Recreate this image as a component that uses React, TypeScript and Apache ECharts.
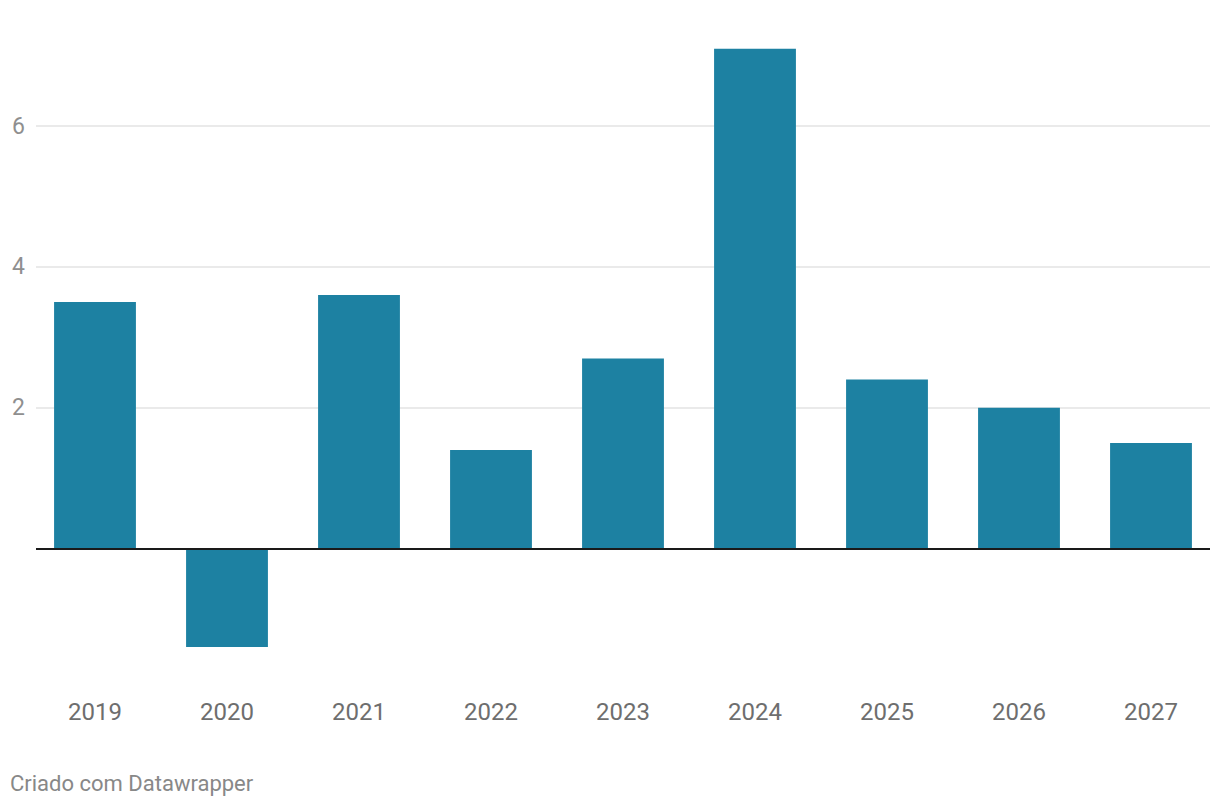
import React, { useEffect, useRef } from "react";
import * as echarts from "echarts";

const years = ["2019", "2020", "2021", "2022", "2023", "2024", "2025", "2026", "2027"];
const values = [3.5, -1.4, 3.6, 1.4, 2.7, 7.1, 2.4, 2.0, 1.5];
const gridValues = [2, 4, 6];
const yLabelValues = [2, 4, 6];
const footer = "Criado com Datawrapper";

const TOP = 20.5;
const BOTTOM = 118.7;
const YMIN = -2;
const YMAX = 7.5;
const FONT = "Roboto, 'Noto Sans', sans-serif";

export default function App() {
  const ref = useRef<HTMLDivElement>(null);
  useEffect(() => {
    if (!ref.current) return;
    const chart = echarts.init(ref.current, null, { renderer: "svg" });
    chart.setOption({
      animation: false,
      backgroundColor: "#ffffff",
      textStyle: { fontFamily: FONT },
      title: {
        text: footer,
        left: 10,
        top: 772,
        padding: 0,
        textStyle: { fontFamily: FONT, fontSize: 22, fontWeight: "normal", color: "#888888" },
      },
      grid: [
        { left: 29, right: 3, top: TOP, bottom: BOTTOM },
        { left: 36, right: 10, top: TOP, bottom: BOTTOM },
      ],
      xAxis: [
        {
          type: "category",
          gridIndex: 0,
          data: years,
          axisLine: { show: false },
          axisTick: { show: false },
          splitLine: { show: false },
          axisLabel: { margin: 11, fontSize: 24, color: "#6e6e6e", fontFamily: FONT },
        },
        {
          type: "value",
          gridIndex: 1,
          min: 0,
          max: 1,
          show: false,
        },
      ],
      yAxis: [
        {
          type: "value",
          gridIndex: 0,
          min: YMIN,
          max: YMAX,
          show: false,
          splitLine: { show: false },
        },
        {
          type: "value",
          gridIndex: 1,
          min: YMIN,
          max: YMAX,
          interval: 2,
          axisLine: { show: false },
          axisTick: { show: false },
          splitLine: { show: false },
          axisLabel: {
            margin: 11,
            fontSize: 23,
            color: "#8f8f8f",
            fontFamily: FONT,
            formatter: (v: number) => (yLabelValues.includes(v) ? String(v) : ""),
          },
        },
      ],
      series: [
        {
          type: "line",
          xAxisIndex: 1,
          yAxisIndex: 1,
          data: [],
          z: 1,
          silent: true,
          markLine: {
            silent: true,
            symbol: "none",
            z: 1,
            label: { show: false },
            lineStyle: { color: "#e3e3e3", width: 1.5, type: "solid" },
            data: gridValues.map((v) => ({ yAxis: v })),
          },
        },
        {
          type: "bar",
          xAxisIndex: 0,
          yAxisIndex: 0,
          data: values,
          barWidth: "62%",
          z: 3,
          itemStyle: { color: "#1d81a2" },
        },
        {
          type: "line",
          xAxisIndex: 1,
          yAxisIndex: 1,
          data: [],
          z: 6,
          silent: true,
          markLine: {
            silent: true,
            symbol: "none",
            z: 6,
            label: { show: false },
            lineStyle: { color: "#1a1a1a", width: 2, type: "solid" },
            data: [{ yAxis: 0 }],
          },
        },
      ],
    });
    return () => chart.dispose();
  }, []);
  return (
    <div
      ref={ref}
      style={{ position: "absolute", left: 0, top: 0, width: 1220, height: 808 }}
    />
  );
}
